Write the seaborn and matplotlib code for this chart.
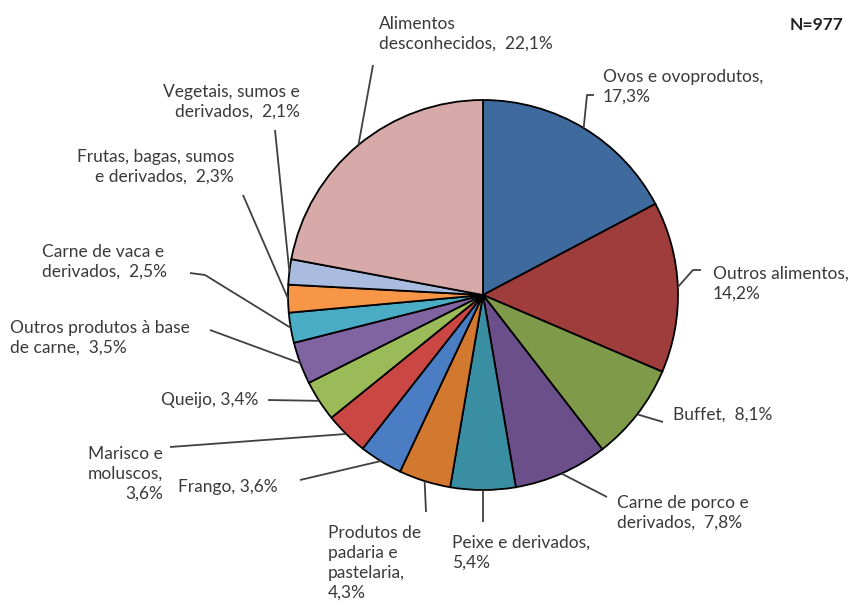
import matplotlib
matplotlib.use("Agg")
import matplotlib.pyplot as plt
import numpy as np
import seaborn as sns

# Food categories implicated in outbreaks (share of N=977)
categories = [
    "Ovos e ovoprodutos", "Outros alimentos", "Buffet", "Carne de porco e derivados",
    "Peixe e derivados", "Produtos de padaria e pastelaria", "Frango",
    "Marisco e moluscos", "Queijo", "Outros produtos à base de carne",
    "Carne de vaca e derivados", "Frutas, bagas, sumos e derivados",
    "Vegetais, sumos e derivados", "Alimentos desconhecidos",
]
values = [17.3, 14.2, 8.1, 7.8, 5.4, 4.3, 3.6, 3.6, 3.4, 3.5, 2.5, 2.3, 2.1, 22.1]
label_templates = [
    "Ovos e ovoprodutos,\n{}", "Outros alimentos,\n{}", "Buffet,  {}",
    "Carne de porco e\nderivados,  {}", "Peixe e derivados,\n{}",
    "Produtos de\npadaria e\npastelaria,\n{}", "Frango, {}",
    "Marisco e\nmoluscos,\n{}", "Queijo, {}", "Outros produtos à base\nde carne,  {}",
    "Carne de vaca e\nderivados,  {}", "Frutas, bagas, sumos\ne derivados,  {}",
    "Vegetais, sumos e\nderivados,  {}", "Alimentos\ndesconhecidos,  {}",
]
sample_note = "N=977"

colors = [
    "#3F6A9E", "#9E3D3B", "#7F9A48", "#6A4F8A", "#3A8EA2", "#D3782F", "#4A7DC4",
    "#CB4744", "#9BBB59", "#8064A2", "#4BACC6", "#F79646", "#A9BBDE", "#D8A9A9",
]

sns.set_theme(style="white")
plt.rcParams["font.family"] = ["Lato", "DejaVu Sans"]

W, H = 858, 608
fig = plt.figure(figsize=(W / 100, H / 100), dpi=100)
ax = fig.add_axes([0, 0, 1, 1])
ax.set_xlim(0, W)
ax.set_ylim(0, H)
ax.axis("off")


def Y(y):
    # layout is written top-down in pixel rows
    return H - y


cx, cy, r = 483, Y(295), 195
wedges, _ = ax.pie(
    values, colors=sns.color_palette(colors), startangle=90, counterclock=False,
    center=(cx, cy), radius=r, frame=True,
    wedgeprops=dict(edgecolor="black", linewidth=1.3),
)
ax.set_xlim(0, W)
ax.set_ylim(0, H)
ax.set_aspect("equal")
ax.axis("off")

# (text x, text y, ha, leader elbow points after the wedge edge)
layout = [
    (603, 86.5, "left", [(587, 95), (594, 95)]),
    (713, 284, "left", [(693, 270), (701, 270)]),
    (673, 415, "left", [(663, 422)]),
    (617, 512.5, "left", [(607, 497)]),
    (452, 552.5, "left", [(483, 522)]),
    (328, 563, "left", [(426, 512)]),
    (178, 487, "left", [(300, 480)]),
    (163, 474, "right", [(170, 447)]),
    (258, 400, "right", [(268, 400)]),
    (10, 337.5, "left", [(210, 330)]),
    (42, 261.5, "left", [(205, 275), (190, 273)]),
    (234, 166.5, "right", [(243, 195)]),
    (300, 101.5, "right", [(275, 130)]),
    (379, 34, "left", [(373, 65)]),
]

text_color = "#3a3a3a"
for w, v, tpl, (tx, ty, ha, pts) in zip(wedges, values, label_templates, layout):
    mid = np.deg2rad((w.theta1 + w.theta2) / 2)
    ex, ey = cx + r * np.cos(mid), cy + r * np.sin(mid)
    xs = [ex] + [p[0] for p in pts]
    ys = [ey] + [Y(p[1]) for p in pts]
    ax.plot(xs, ys, color="#404040", lw=1.3, solid_capstyle="butt", zorder=1)
    label = tpl.format(f"{v:.1f}".replace(".", ",") + "%")
    ax.text(tx, Y(ty), label, ha=ha, va="center", multialignment=ha,
            fontsize=12.5, color=text_color, linespacing=1.3)

ax.text(843, Y(25), sample_note, ha="right", va="center", fontsize=12.5,
        fontweight="bold", color="#222222")

fig.savefig("out.png", dpi=100, facecolor="white")
